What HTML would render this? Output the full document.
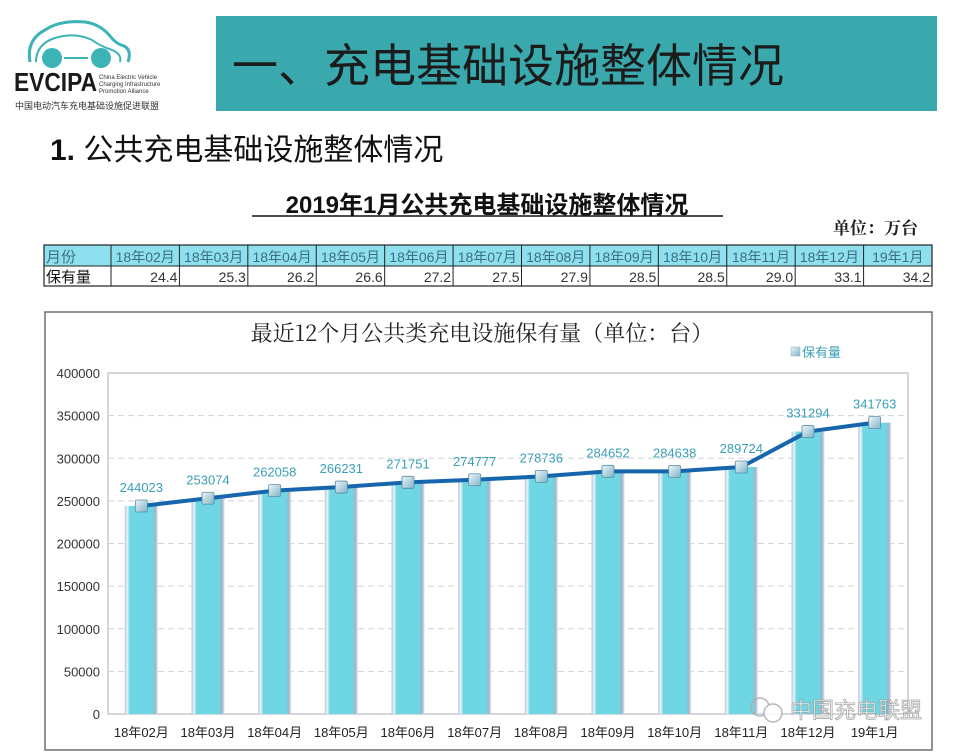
<!DOCTYPE html>
<html><head><meta charset="utf-8"><style>
body{margin:0;background:#fff;width:966px;height:754px;overflow:hidden;font-family:"Liberation Sans","Noto Sans CJK SC",sans-serif;}
svg{display:block}
</style></head><body>
<svg width="966" height="754" viewBox="0 0 966 754" xmlns="http://www.w3.org/2000/svg">
<defs>
<linearGradient id="barg" x1="0" x2="1" y1="0" y2="0">
<stop offset="0" stop-color="#b8c6d6"/><stop offset="0.08" stop-color="#e8f4f8"/><stop offset="0.15" stop-color="#6fd6e4"/><stop offset="0.85" stop-color="#6fd6e4"/><stop offset="0.92" stop-color="#9fb2c6"/><stop offset="1" stop-color="#dfe6ee"/>
</linearGradient>
<linearGradient id="mk" x1="0" x2="1" y1="0" y2="1"><stop offset="0" stop-color="#eef6fa"/><stop offset="1" stop-color="#7fb3c6"/></linearGradient>
</defs>
<g>
<path d="M30 62 Q26 40 45 30 Q60 20 85 22 Q100 24 110 36 Q116 44 124 46 Q132 50 128 62" fill="none" stroke="#3bb3b7" stroke-width="3"/>
<path d="M36 62 Q36 44 55 38 Q75 32 92 40 Q100 46 112 50 Q122 54 120 62" fill="none" stroke="#3bb3b7" stroke-width="2"/>
<circle cx="52" cy="58" r="10" fill="#3bb3b7"/><circle cx="101" cy="58" r="10" fill="#3bb3b7"/>
<line x1="64" y1="58" x2="88" y2="58" stroke="#3bb3b7" stroke-width="2"/>
<text x="14" y="91" font-size="26" font-weight="bold" fill="#1a1a1a" textLength="83" lengthAdjust="spacingAndGlyphs">EVCIPA</text>
<text x="99" y="79" font-size="6" fill="#333">China Electric Vehicle</text>
<text x="99" y="86" font-size="6" fill="#333">Charging Infrastructure</text>
<text x="99" y="93" font-size="6" fill="#333">Promotion Alliance</text>
<text x="15" y="109" font-size="9" fill="#333">中国电动汽车充电基础设施促进联盟</text>
</g>
<rect x="216" y="16" width="721" height="95" fill="#3aa9ae"/>
<text x="232" y="82" font-size="46" fill="#1b1b1b" font-family="Noto Sans CJK SC,sans-serif">一、充电基础设施整体情况</text>
<text x="50" y="160" font-size="30" fill="#111"><tspan font-weight="bold">1.</tspan> 公共充电基础设施整体情况</text>
<text x="487" y="213" font-size="24" font-weight="bold" text-anchor="middle" fill="#111">2019年1月公共充电基础设施整体情况</text>
<line x1="252" y1="216" x2="723" y2="216" stroke="#111" stroke-width="1.5"/>
<text x="918" y="234" font-size="17" font-weight="bold" text-anchor="end" fill="#222" font-family="Noto Serif CJK SC,serif">单位：万台</text>
<g id="table"></g>
<rect x="45" y="312" width="887" height="438" fill="#fff" stroke="#6b7075" stroke-width="1.5"/>
<text x="482" y="341" font-size="22" text-anchor="middle" fill="#222" font-family="Noto Serif CJK SC,serif">最近12个月公共类充电设施保有量（单位：台）</text>
<rect x="791" y="347" width="9" height="9" fill="url(#mk)" stroke="#8ab" stroke-width="0.5"/>
<text x="802" y="357" font-size="13" fill="#3a9fb5">保有量</text>
<g id="chart"></g>
<g opacity="0.85">
<circle cx="760" cy="707" r="9" fill="none" stroke="#aaa" stroke-width="1.5"/><circle cx="773" cy="713" r="9" fill="#fff" stroke="#aaa" stroke-width="1.5"/>
<text x="790" y="718" font-size="22" fill="#fff" stroke="#999" stroke-width="0.8">中国充电联盟</text>
</g>
</svg>
<script>
const months=["18年02月","18年03月","18年04月","18年05月","18年06月","18年07月","18年08月","18年09月","18年10月","18年11月","18年12月","19年1月"];
const tableValues=["24.4","25.3","26.2","26.6","27.2","27.5","27.9","28.5","28.5","29.0","33.1","34.2"];
const counts=[244023,253074,262058,266231,271751,274777,278736,284652,284638,289724,331294,341763];
const yTicks=[0,50000,100000,150000,200000,250000,300000,350000,400000];
const NS="http://www.w3.org/2000/svg";
function mk(tag,attrs,parent,txt){const e=document.createElementNS(NS,tag);for(const k in attrs)e.setAttribute(k,attrs[k]);if(txt!==undefined)e.textContent=txt;parent.appendChild(e);return e;}
const tb=document.getElementById('table');
const tx0=44,c0=67,cw=(932-111)/12,r0=245,r1=266,r2=286;
mk('rect',{x:tx0,y:r0,width:932-tx0,height:r1-r0,fill:'#8fe0ee'},tb);
mk('rect',{x:tx0,y:r0,width:932-tx0,height:r2-r0,fill:'none',stroke:'#222','stroke-width':1.2},tb);
mk('line',{x1:tx0,y1:r1,x2:932,y2:r1,stroke:'#222'},tb);
const h1=mk('text',{x:tx0+2,y:r1-4,'font-size':15,fill:'#3b6f80'},tb,'月份');


const h2=mk('text',{x:tx0+2,y:r2-4,'font-size':15,fill:'#111'},tb,'保有量');


months.forEach((m,i)=>{const x=tx0+c0+i*cw;
 mk('line',{x1:x,y1:r0,x2:x,y2:r2,stroke:'#222'},tb);
 const a=mk('text',{x:x+cw/2,y:r1-4,'font-size':14,'text-anchor':'middle',fill:'#3b6f80'},tb,m);
 
 
 const b=mk('text',{x:x+cw-2,y:r2-4,'font-size':14,'text-anchor':'end',fill:'#333'},tb,tableValues[i]);
 
 
});
const g=document.getElementById('chart');
const L=108,R=908,T=373,B=714,yMax=400000;
const y=v=>B-(v/yMax)*(B-T);
const band=(R-L)/counts.length;
const xc=i=>L+band*(i+0.5);
mk('rect',{x:L,y:T,width:R-L,height:B-T,fill:'none',stroke:'#a9b0b6'},g);
yTicks.forEach(t=>{
 if(t>0&&t<yMax){const gl=mk('line',{x1:L,y1:y(t),x2:R,y2:y(t),stroke:'#d0d4d8','stroke-dasharray':'6,4'},g);
 
 }
 const tl=mk('text',{x:L-8,y:y(t)+5,'font-size':13,'text-anchor':'end',fill:'#333'},g,String(t));
 
 
});
const bw=33;
counts.forEach((v,i)=>{
 const r=mk('rect',{x:xc(i)-bw/2,y:y(v),width:bw,height:B-y(v),fill:'url(#barg)'},g);
 
 
 const xl=mk('text',{x:xc(i),y:B+23,'font-size':13,'text-anchor':'middle',fill:'#222'},g,months[i]);
 
 
});
const pts=counts.map((v,i)=>xc(i)+','+y(v)).join(' ');
const pl=mk('polyline',{points:pts,fill:'none',stroke:'#1666ad','stroke-width':4,'stroke-linejoin':'round'},g);


counts.forEach((v,i)=>{
 const m=mk('rect',{x:xc(i)-6,y:y(v)-6,width:12,height:12,fill:'url(#mk)',stroke:'#5c8fa6','stroke-width':0.8,rx:1.5},g);
 
 
 const dl=mk('text',{x:xc(i),y:y(v)-14,'font-size':13,'text-anchor':'middle',fill:'#3a9fb5'},g,String(v));
 
 
});
</script>
</body></html>
